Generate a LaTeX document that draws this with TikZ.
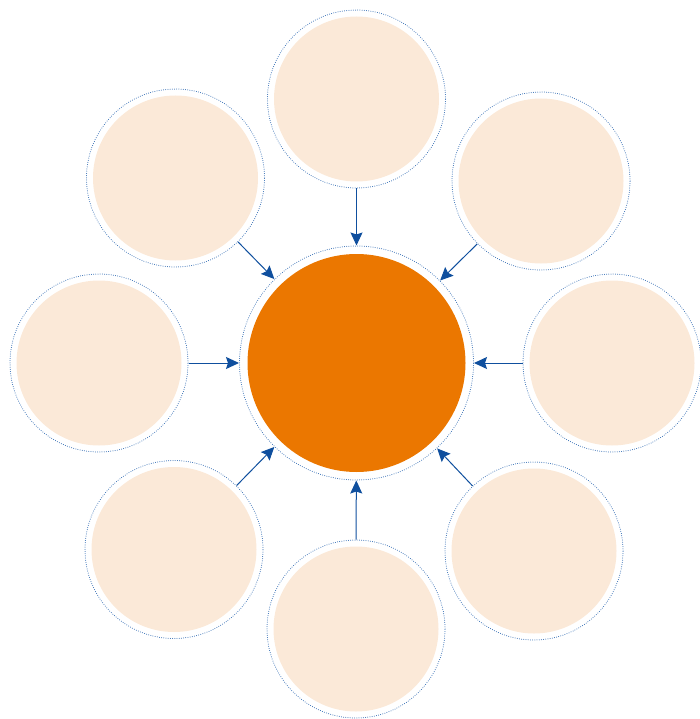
\documentclass[tikz,border=0pt]{standalone}
\usetikzlibrary{arrows.meta}
\definecolor{peach}{HTML}{FBE9D8}
\definecolor{orng}{HTML}{EB7700}
\definecolor{ringblue}{HTML}{2A66B0}
\definecolor{arrblue}{HTML}{0F4F9E}
\tikzset{
  ring/.style={circle, draw=ringblue, line width=1pt, line cap=round,
    dash pattern=on 0pt off 2.2pt, inner sep=0pt},
  sat/.style={ring, minimum size=178pt,
    path picture={\fill[peach] (path picture bounding box.center) circle (82.5pt);}},
  hub/.style={ring, minimum size=234pt,
    path picture={\fill[orng] (path picture bounding box.center) circle (109pt);}},
  arr/.style={draw=arrblue, line width=1pt, -{Stealth[length=13pt,width=12pt,inset=2pt]}}
}
\begin{document}
\begin{tikzpicture}[x=1pt,y=-1pt]
\useasboundingbox (0,0) rectangle (699,719);
\node[hub] (c) at (356.5,363) {};
\node[sat] (t)  at (356.5,99) {};
\node[sat] (tr) at (541,181) {};
\node[sat] (r)  at (612,363) {};
\node[sat] (br) at (534,551) {};
\node[sat] (b)  at (356,629) {};
\node[sat] (bl) at (174,549.5) {};
\node[sat] (l)  at (99,363) {};
\node[sat] (tl) at (175.5,178) {};
\foreach \s in {t,tr,r,br,b,bl,l,tl}{
  \draw[arr] (\s) -- (c);
}
\end{tikzpicture}
\end{document}
